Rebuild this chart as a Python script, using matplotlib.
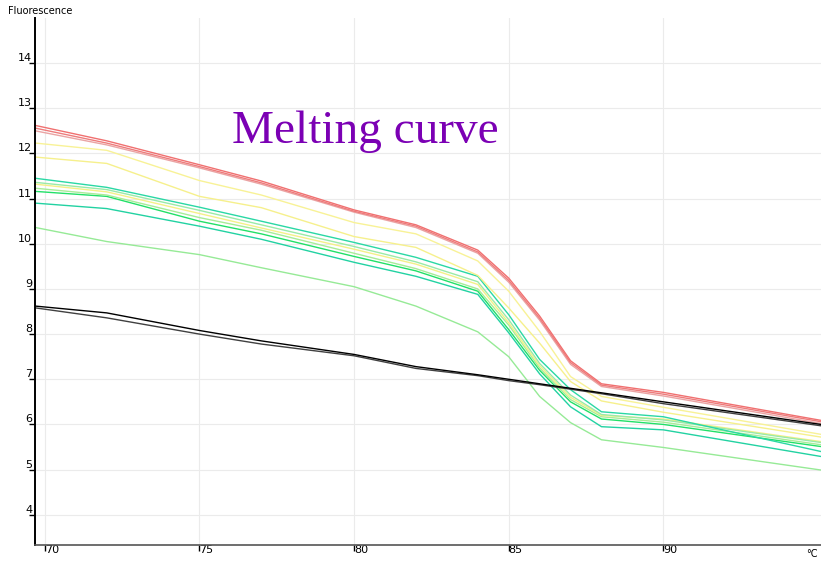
import numpy as np
import matplotlib
matplotlib.use("Agg")
import matplotlib.pyplot as plt

# temperature points (deg C) where the readings were taken
temps = [69.7, 72, 75, 77, 80, 82, 84, 85, 86, 87, 88, 90, 95.1]

# fluorescence per well
red_1 = [12.62, 12.28, 11.75, 11.39, 10.75, 10.42, 9.86, 9.24, 8.40, 7.41, 6.90, 6.71, 6.09]
red_2 = [12.56, 12.23, 11.71, 11.35, 10.72, 10.39, 9.82, 9.19, 8.35, 7.37, 6.87, 6.67, 6.06]
pink_1 = [12.50, 12.19, 11.68, 11.32, 10.70, 10.36, 9.79, 9.15, 8.31, 7.33, 6.84, 6.63, 6.02]
yellow_1 = [12.23, 12.07, 11.40, 11.08, 10.47, 10.22, 9.62, 8.95, 8.06, 7.06, 6.62, 6.38, 5.78]
yellow_2 = [11.92, 11.78, 11.05, 10.80, 10.16, 9.92, 9.30, 8.58, 7.80, 6.95, 6.52, 6.27, 5.72]
teal_top = [11.45, 11.25, 10.81, 10.50, 10.03, 9.70, 9.28, 8.43, 7.44, 6.77, 6.28, 6.17, 5.40]
lime_1 = [11.36, 11.20, 10.74, 10.42, 9.94, 9.60, 9.16, 8.32, 7.35, 6.65, 6.22, 6.10, 5.60]
yellow_3 = [11.32, 11.15, 10.67, 10.35, 9.88, 9.55, 9.10, 8.25, 7.30, 6.60, 6.20, 6.12, 5.62]
lime_2 = [11.23, 11.08, 10.58, 10.30, 9.79, 9.45, 9.00, 8.20, 7.25, 6.55, 6.17, 6.05, 5.55]
green_1 = [11.16, 11.05, 10.50, 10.22, 9.72, 9.40, 8.95, 8.10, 7.20, 6.50, 6.12, 6.00, 5.51]
teal_low = [10.90, 10.78, 10.39, 10.10, 9.59, 9.28, 8.88, 8.03, 7.12, 6.39, 5.95, 5.88, 5.29]
lightgreen = [10.36, 10.05, 9.76, 9.47, 9.05, 8.62, 8.05, 7.50, 6.62, 6.04, 5.66, 5.49, 4.99]
black_1 = [8.62, 8.47, 8.08, 7.85, 7.55, 7.28, 7.10, 7.00, 6.90, 6.80, 6.70, 6.50, 6.00]
black_2 = [8.58, 8.36, 8.00, 7.78, 7.52, 7.24, 7.08, 6.97, 6.88, 6.78, 6.68, 6.46, 5.97]

curves = [
    (lightgreen, "#96ea96"),
    (teal_low, "#22d2a2"),
    (green_1, "#22e068"),
    (lime_2, "#a8ec98"),
    (yellow_3, "#f4f088"),
    (lime_1, "#9aeaa8"),
    (teal_top, "#2ad8a4"),
    (yellow_2, "#f6f08c"),
    (yellow_1, "#f8f296"),
    (pink_1, "#eaa4a4"),
    (red_2, "#ee7c7c"),
    (red_1, "#f07070"),
    (black_2, "#404040"),
    (black_1, "#000000"),
]

x_ticks = [70, 75, 80, 85, 90]
y_ticks = [4, 5, 6, 7, 8, 9, 10, 11, 12, 13, 14]

fig = plt.figure(figsize=(8.21, 5.63), dpi=100)
ax = fig.add_axes([35 / 821, 18 / 563, 1 - 35 / 821, 1 - 36 / 563])

for vals, col in curves:
    ax.plot(temps, vals, color=col, lw=1.0)

ax.set_xlim(69.68, 95.1)
ax.set_ylim(3.33, 15.0)
ax.set_xticks(x_ticks)
ax.set_yticks(y_ticks)
ax.grid(True, color="#ebebeb", lw=0.8)
ax.set_axisbelow(True)

for s in ["top", "right"]:
    ax.spines[s].set_visible(False)
ax.spines["left"].set_color("black")
ax.spines["left"].set_linewidth(1.4)
ax.spines["bottom"].set_color("#555555")
ax.spines["bottom"].set_linewidth(1.2)

ax.tick_params(axis="y", direction="out", length=4, width=1, pad=-2, labelsize=8)
ax.tick_params(axis="x", direction="out", length=4, width=1, pad=-4, labelsize=8)
for lab in ax.get_yticklabels():
    lab.set_va("bottom")
for lab in ax.get_xticklabels():
    lab.set_ha("left")

fig.text(8 / 821, 1 - 11 / 563, "Fluorescence", fontsize=7, va="center", ha="left")
fig.text(806 / 821, 1 - 554 / 563, "°C", fontsize=7, va="center", ha="left")
fig.text(232 / 821, 1 - 143 / 563, "Melting curve", fontsize=34,
         family="Liberation Serif", color="#7b00b4", va="baseline", ha="left")

fig.savefig("out.png", dpi=100)
